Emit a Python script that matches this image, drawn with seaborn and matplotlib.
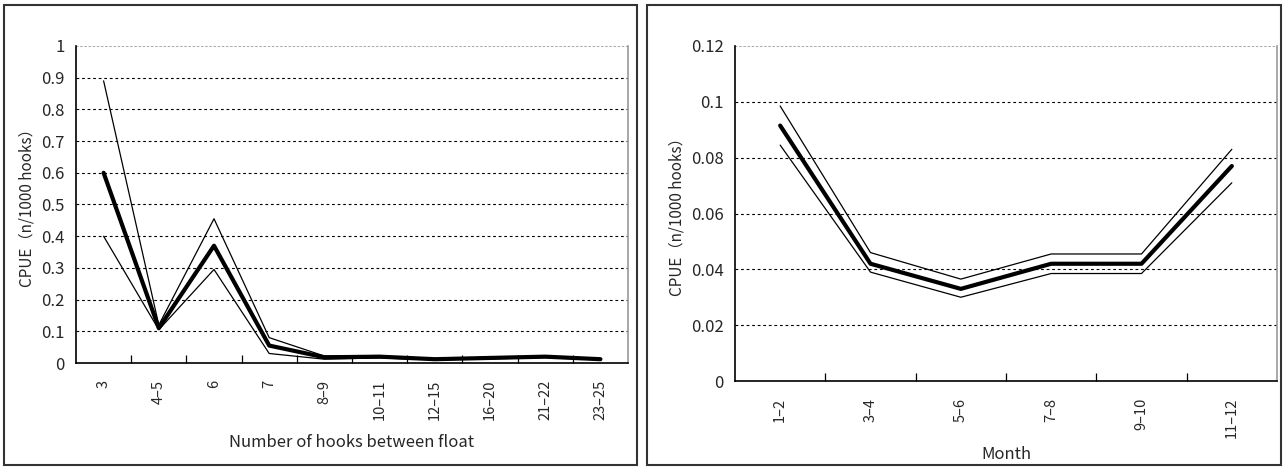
import seaborn as sns
import pandas as pd
import matplotlib.pyplot as plt
from matplotlib.patches import Rectangle
from matplotlib.ticker import MultipleLocator, FixedLocator

# hooks between float panel
hooks = ["3", "4\u20135", "6", "7", "8\u20139", "10\u201311", "12\u201315", "16\u201320", "21\u201322", "23\u201325"]
hooks_mean = [0.60, 0.11, 0.37, 0.055, 0.018, 0.020, 0.012, 0.016, 0.020, 0.012]
hooks_upper = [0.89, 0.12, 0.455, 0.080, 0.022, 0.022, 0.014, 0.018, 0.022, 0.014]
hooks_lower = [0.40, 0.105, 0.295, 0.030, 0.012, 0.016, 0.010, 0.013, 0.017, 0.010]

# month panel
months = ["1\u20132", "3\u20134", "5\u20136", "7\u20138", "9\u201310", "11\u201312"]
month_mean = [0.0915, 0.042, 0.033, 0.042, 0.042, 0.077]
month_upper = [0.0985, 0.046, 0.0365, 0.0455, 0.0455, 0.083]
month_lower = [0.0845, 0.039, 0.030, 0.0385, 0.0385, 0.071]

sns.set_theme(style='white')
plt.rcParams['font.family'] = ['Noto Sans CJK JP', 'DejaVu Sans']

fig = plt.figure(figsize=(12.85, 4.68), dpi=100)

# panel frames like the Excel chart area
W, H = 1285, 468
for x0, x1 in [(4, 637), (647, 1281)]:
    fig.patches.append(Rectangle((x0 / W, 3 / H), (x1 - x0) / W, (464 - 4) / H,
                                 transform=fig.transFigure, fill=False,
                                 edgecolor='#333333', linewidth=1.5))


def draw_panel(ax, cats, mean, upper, lower, ymax, ystep, xlabel, xlab_y):
    n = len(cats)
    pos = list(range(n))
    for vals, lw in [(upper, 0.9), (lower, 0.9), (mean, 3.0)]:
        df = pd.DataFrame({'x': pos, 'y': vals})
        sns.lineplot(data=df, x='x', y='y', ax=ax, color='black', linewidth=lw, sort=False)
    ax.set_xlim(-0.5, n - 0.5)
    ax.set_ylim(0, ymax)
    ax.yaxis.set_major_locator(MultipleLocator(ystep))
    ax.set_yticklabels([('%g' % v) for v in ax.get_yticks()])
    ax.set_xticks(pos)
    ax.set_xticklabels(cats, rotation=90, fontsize=10.5)
    ax.xaxis.set_minor_locator(FixedLocator([p + 0.5 for p in pos[:-1]]))
    ax.tick_params(axis='x', which='major', length=0, pad=12)
    ax.tick_params(axis='x', which='minor', direction='in', length=6, width=0.9, color='black', bottom=True)
    ax.tick_params(axis='y', labelsize=12, length=0, pad=8)
    for v in ax.get_yticks():
        if 0 < v < ymax - 1e-9:
            ax.axhline(v, color='black', linestyle=(0, (2.5, 2.5)), linewidth=0.8, zorder=0)
    ax.axhline(ymax, color='#999999', linestyle=(0, (1.5, 1)), linewidth=1.2, zorder=0)
    ax.spines['top'].set_visible(False)
    for s in ['left', 'bottom']:
        ax.spines[s].set_color('black')
        ax.spines[s].set_linewidth(1.2)
    ax.spines['right'].set_color('#999999')
    ax.spines['right'].set_linewidth(1.2)
    ax.set_xlabel(xlabel, fontsize=12)
    ax.xaxis.set_label_coords(0.5, xlab_y)
    ax.set_ylabel('CPUE\uff08n/1000 hooks\uff09', fontsize=11)


ax1 = fig.add_axes([76 / W, 1 - 363 / H, (628 - 76) / W, (363 - 46) / H])
draw_panel(ax1, hooks, hooks_mean, hooks_upper, hooks_lower, 1.0, 0.1,
           'Number of hooks between float', -0.225)

ax2 = fig.add_axes([735 / W, 1 - 381 / H, (1277 - 735) / W, (381 - 46) / H])
draw_panel(ax2, months, month_mean, month_upper, month_lower, 0.12, 0.02,
           'Month', -0.195)

fig.savefig('out.png', dpi=100)
